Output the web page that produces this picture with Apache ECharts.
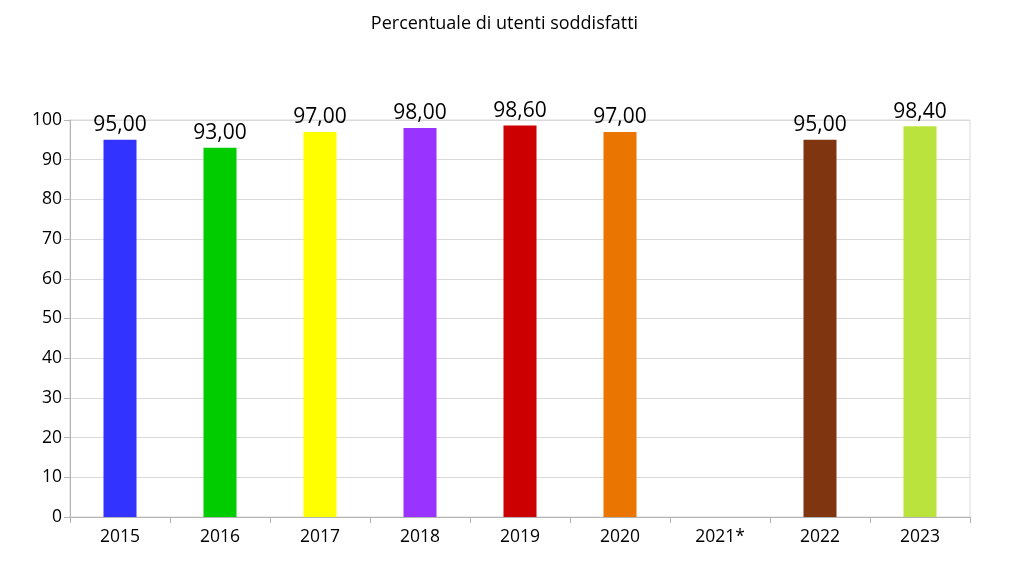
<!DOCTYPE html>
<html><head><meta charset="utf-8">
<script src="https://cdn.jsdelivr.net/npm/echarts@6/dist/echarts.min.js"></script>
<style>html,body{margin:0;padding:0;background:#fff}#c{width:1009px;height:568px}</style>
</head><body><div id="c"></div>
<script>
const categories = ['2015','2016','2017','2018','2019','2020','2021*','2022','2023'];
const values = [95.00, 93.00, 97.00, 98.00, 98.60, 97.00, null, 95.00, 98.40];
const barColors = ['#3333ff','#00cc00','#ffff00','#9933ff','#cc0000','#ea7500','#ffffff','#7f3510','#bbe33d'];
const yTicks = [0,10,20,30,40,50,60,70,80,90,100];
const titleText = 'Percentuale di utenti soddisfatti';
const FONT = 'Open Sans';

const chart = echarts.init(document.getElementById('c'));
chart.setOption({
  animation: false,
  title: { text: titleText, left: 'center', top: 10,
    textStyle: { fontFamily: FONT, fontSize: 18, fontWeight: 'normal', color: '#000' } },
  grid: { left: 70, right: 39, top: 120, bottom: 51, show: true, borderColor: '#d9d9d9', borderWidth: 1 },
  xAxis: { type: 'category', data: categories,
    axisLine: { lineStyle: { color: '#b3b3b3' } },
    axisTick: { show: true, length: 6, lineStyle: { color: '#b3b3b3' } },
    axisLabel: { fontFamily: FONT, fontSize: 17.5, color: '#000', margin: 11 } },
  yAxis: { type: 'value', min: yTicks[0], max: yTicks[yTicks.length-1], interval: 10,
    axisLine: { show: true, lineStyle: { color: '#b3b3b3' } },
    axisTick: { show: true, length: 6, lineStyle: { color: '#b3b3b3' } },
    splitLine: { lineStyle: { color: '#d9d9d9' } },
    axisLabel: { fontFamily: FONT, fontSize: 17.5, color: '#000', margin: 8 } },
  series: [{
    type: 'bar', barWidth: 33,
    data: values.map((v,i) => ({ value: v, itemStyle: { color: barColors[i] } })),
    label: { show: true, position: 'top', distance: 4, fontFamily: FONT, fontSize: 21, color: '#000',
      formatter: p => p.value == null ? '' : p.value.toFixed(2).replace('.', ',') }
  }]
});
</script></body></html>
